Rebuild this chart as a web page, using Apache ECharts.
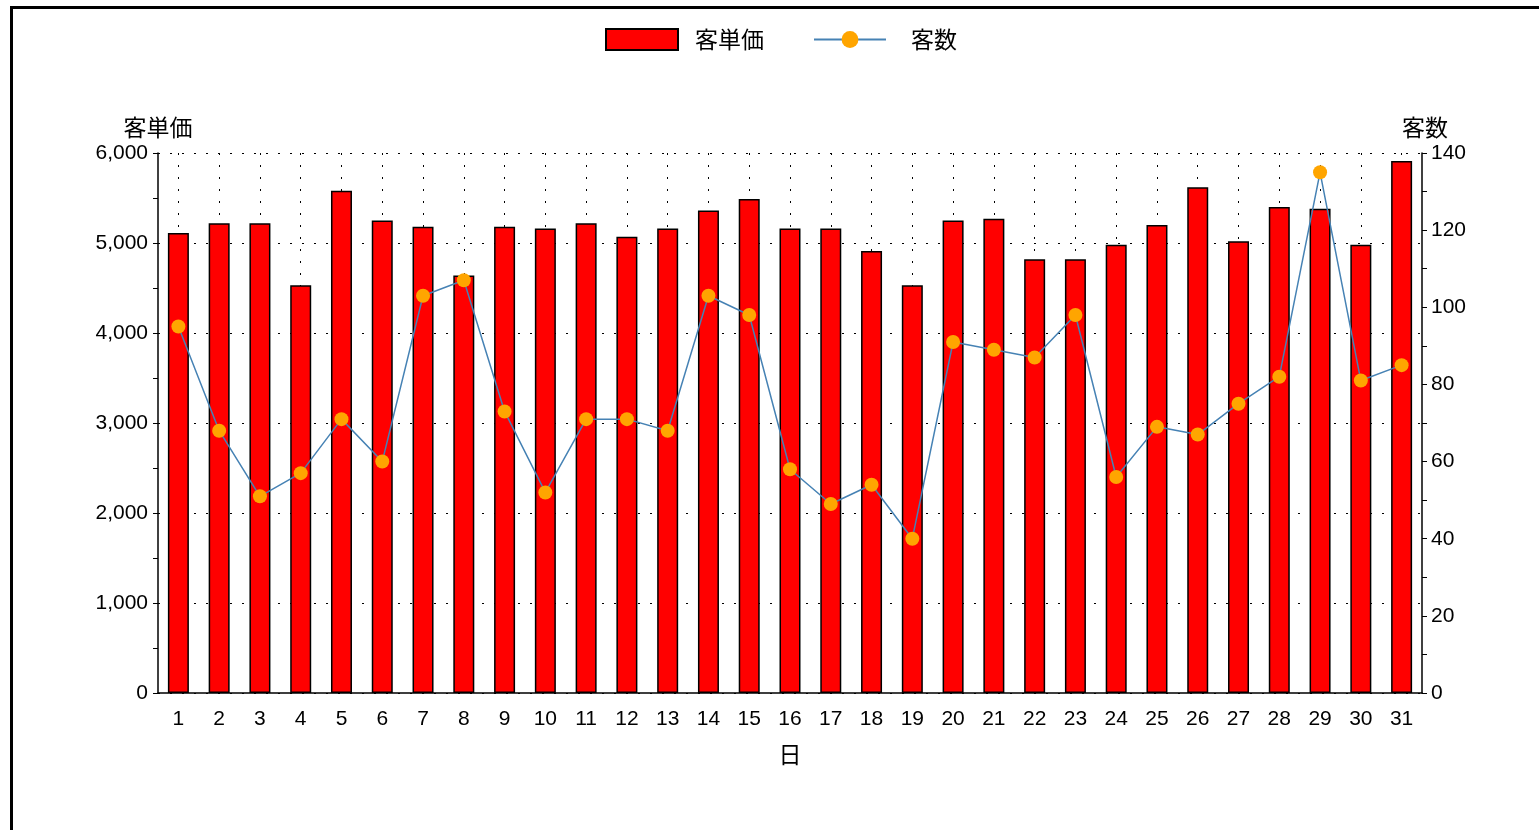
<!DOCTYPE html>
<html>
<head>
<meta charset="utf-8">
<script src="https://cdn.jsdelivr.net/npm/echarts@6/dist/echarts.min.js"></script>
<style>
html,body{margin:0;padding:0;background:#fff;}
#chart{width:1539px;height:830px;}
</style>
</head>
<body>
<div id="chart"></div>
<script>
var days = ['1','2','3','4','5','6','7','8','9','10','11','12','13','14','15','16','17','18','19','20','21','22','23','24','25','26','27','28','29','30','31'];
var unitPrice = [5110, 5220, 5220, 4530, 5580, 5250, 5180, 4640, 5180, 5160, 5220, 5070, 5160, 5360, 5490, 5160, 5160, 4910, 4530, 5250, 5270, 4820, 4820, 4980, 5200, 5620, 5020, 5400, 5380, 4980, 5910];
var customers = [95, 68, 51, 57, 71, 60, 103, 107, 73, 52, 71, 71, 68, 103, 98, 58, 49, 54, 40, 91, 89, 87, 98, 56, 69, 67, 75, 82, 135, 81, 85];
var seriesNames = ['客単価', '客数'];
var xName = '日';

var NUM_FONT = '"Liberation Sans", Arial, sans-serif';
var CJK_FONT = '"Noto Sans CJK JP", "Noto Sans CJK SC", sans-serif';
var dotted = {color: '#000', width: 1, type: [2, 10]};

var chart = echarts.init(document.getElementById('chart'), null, {renderer: 'canvas'});
chart.setOption({
  animation: false,
  backgroundColor: '#fff',
  graphic: [
    {type: 'rect', shape: {x: 10, y: 6, width: 1529, height: 3}, style: {fill: '#000'}, z: 100},
    {type: 'rect', shape: {x: 10, y: 6, width: 3, height: 824}, style: {fill: '#000'}, z: 100}
  ],
  legend: {
    data: [
      {name: seriesNames[0], icon: 'rect'},
      {name: seriesNames[1], textStyle: {padding: [0, 0, 0, 20]}}
    ],
    left: 600,
    top: 23,
    itemWidth: 72,
    itemHeight: 21,
    itemGap: 49,
    textStyle: {fontFamily: CJK_FONT, fontSize: 23, color: '#000', padding: [0, 0, 0, 12]}
  },
  grid: {left: 158, right: 117, top: 153, bottom: 137},
  xAxis: {
    type: 'category',
    data: days,
    name: xName,
    nameLocation: 'middle',
    nameGap: 50,
    nameTextStyle: {fontFamily: CJK_FONT, fontSize: 23, color: '#000'},
    axisLine: {lineStyle: {color: '#000', width: 1.5}},
    axisTick: {alignWithLabel: true, length: 5, lineStyle: {color: '#000'}},
    axisLabel: {color: '#000', fontFamily: NUM_FONT, fontSize: 21, margin: 16},
    splitLine: {show: true, alignWithLabel: true, lineStyle: dotted}
  },
  yAxis: [
    {
      type: 'value', min: 0, max: 6000, interval: 1000, position: 'left',
      name: seriesNames[0], nameLocation: 'end', nameGap: 14,
      nameTextStyle: {fontFamily: CJK_FONT, fontSize: 23, color: '#000', align: 'center'},
      axisLine: {show: true, lineStyle: {color: '#000', width: 1.5}},
      axisTick: {show: true, length: 5, lineStyle: {color: '#000'}},
      minorTick: {show: true, splitNumber: 2, length: 5, lineStyle: {color: '#000'}},
      axisLabel: {color: '#000', fontFamily: NUM_FONT, fontSize: 21, margin: 10},
      splitLine: {show: true, lineStyle: dotted}
    },
    {
      type: 'value', min: 0, max: 140, interval: 20, position: 'right',
      name: seriesNames[1], nameLocation: 'end', nameGap: 14,
      nameTextStyle: {fontFamily: CJK_FONT, fontSize: 23, color: '#000', align: 'left', padding: [0, 0, 0, -20]},
      axisLine: {show: true, lineStyle: {color: '#000', width: 1.5}},
      axisTick: {show: true, length: 5, lineStyle: {color: '#000'}},
      minorTick: {show: true, splitNumber: 2, length: 5, lineStyle: {color: '#000'}},
      axisLabel: {color: '#000', fontFamily: NUM_FONT, fontSize: 21, margin: 9},
      splitLine: {show: false}
    }
  ],
  series: [
    {
      name: seriesNames[0], type: 'bar', yAxisIndex: 0, data: unitPrice,
      barWidth: 21,
      itemStyle: {color: '#FF0000', borderColor: '#000', borderWidth: 1.5}
    },
    {
      name: seriesNames[1], type: 'line', yAxisIndex: 1, data: customers,
      symbol: 'circle', symbolSize: 14,
      itemStyle: {color: '#FFA500'},
      lineStyle: {color: '#4682B4', width: 1.5},
      z: 5
    }
  ]
});
</script>
</body>
</html>
